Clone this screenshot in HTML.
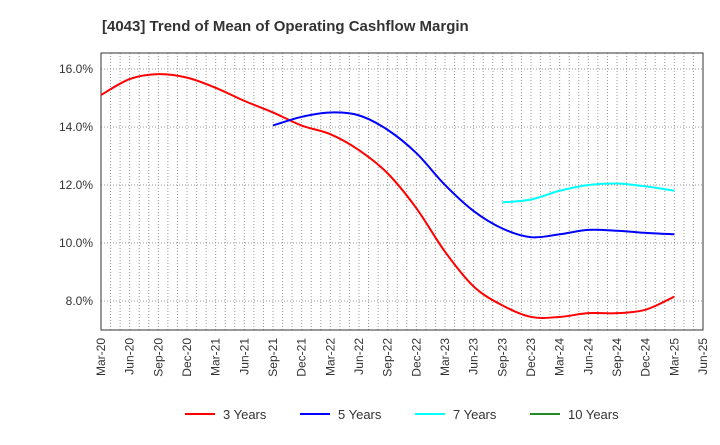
<!DOCTYPE html>
<html><head><meta charset="utf-8"><style>
body{margin:0;background:#fff;font-family:"Liberation Sans",sans-serif;}
svg text{font-family:"Liberation Sans",sans-serif;fill:#333;}
</style></head><body>
<svg width="720" height="440" id="c">
<text x="102" y="31" font-size="15" font-weight="bold">[4043]  Trend of Mean of Operating Cashflow Margin</text>
</svg>
<script>
const categories=["Mar-20","Jun-20","Sep-20","Dec-20","Mar-21","Jun-21","Sep-21","Dec-21","Mar-22","Jun-22","Sep-22","Dec-22","Mar-23","Jun-23","Sep-23","Dec-23","Mar-24","Jun-24","Sep-24","Dec-24","Mar-25","Jun-25"];
const yTicks=[8,10,12,14,16];
const s3=[15.1,15.65,15.82,15.7,15.35,14.9,14.5,14.05,13.75,13.2,12.4,11.2,9.7,8.5,7.85,7.45,7.45,7.58,7.58,7.7,8.15];
const s5=[null,null,null,null,null,null,14.05,14.35,14.5,14.4,13.9,13.1,12.0,11.1,10.5,10.2,10.3,10.45,10.42,10.35,10.3];
const s7=[null,null,null,null,null,null,null,null,null,null,null,null,null,null,11.4,11.5,11.8,12.0,12.05,11.95,11.8];
const s10=[];
const seriesNames=["3 Years","5 Years","7 Years","10 Years"];
const colors=["#ff0000","#0000ff","#00ffff","#228b22"];
const svg=document.getElementById('c');const NS="http://www.w3.org/2000/svg";
const L=101,R=703,T=53,B=330,yMin=7,yMax=16.55;
const xS=i=>L+(R-L)*i/(categories.length-1);
const yS=v=>B-(B-T)*(v-yMin)/(yMax-yMin);
function mk(t,a){const e=document.createElementNS(NS,t);for(const k in a)e.setAttribute(k,a[k]);svg.appendChild(e);return e;}
// grid
for(let m=0;m<=(categories.length-1)*3;m++){const x=L+(R-L)*m/((categories.length-1)*3);
const g=mk('line',{x1:x,x2:x,y1:T,y2:B,stroke:'#999','stroke-width':1,'stroke-dasharray':'1,2'});

}
yTicks.forEach(v=>{const g=mk('line',{x1:L,x2:R,y1:yS(v),y2:yS(v),stroke:'#999','stroke-dasharray':'1,2'});


const t=mk('text',{x:L-8,y:yS(v)+4,'text-anchor':'end','font-size':12});t.textContent=v.toFixed(1)+'%';

});
const fr=mk('rect',{x:L,y:T,width:R-L,height:B-T,fill:'none',stroke:'#333'});


categories.forEach((c,i)=>{const t=mk('text',{transform:`translate(${xS(i)+4},${B+8}) rotate(-90)`,'text-anchor':'end','font-size':12});t.textContent=c;

});
function path(arr){const p=[];arr.forEach((v,i)=>{if(v!=null)p.push([xS(i),yS(v)]);});if(p.length<2)return '';
let d=`M${p[0][0]},${p[0][1]}`;for(let i=0;i<p.length-1;i++){const p0=p[i-1]||p[i],p1=p[i],p2=p[i+1],p3=p[i+2]||p2;
d+=`C${p1[0]+(p2[0]-p0[0])/6},${p1[1]+(p2[1]-p0[1])/6} ${p2[0]-(p3[0]-p1[0])/6},${p2[1]-(p3[1]-p1[1])/6} ${p2[0]},${p2[1]}`;}return d;}
[s3,s5,s7,s10].forEach((s,k)=>{const d=path(s);if(!d)return;const e=mk('path',{d:d,fill:'none',stroke:colors[k],'stroke-width':2});

});
seriesNames.forEach((n,k)=>{const x=185+115*k;const l=mk('line',{x1:x,x2:x+30,y1:414,y2:414,stroke:colors[k],'stroke-width':2});


const t=mk('text',{x:x+38,y:419,'font-size':13});t.textContent=n;

});
</script>
</body></html>
